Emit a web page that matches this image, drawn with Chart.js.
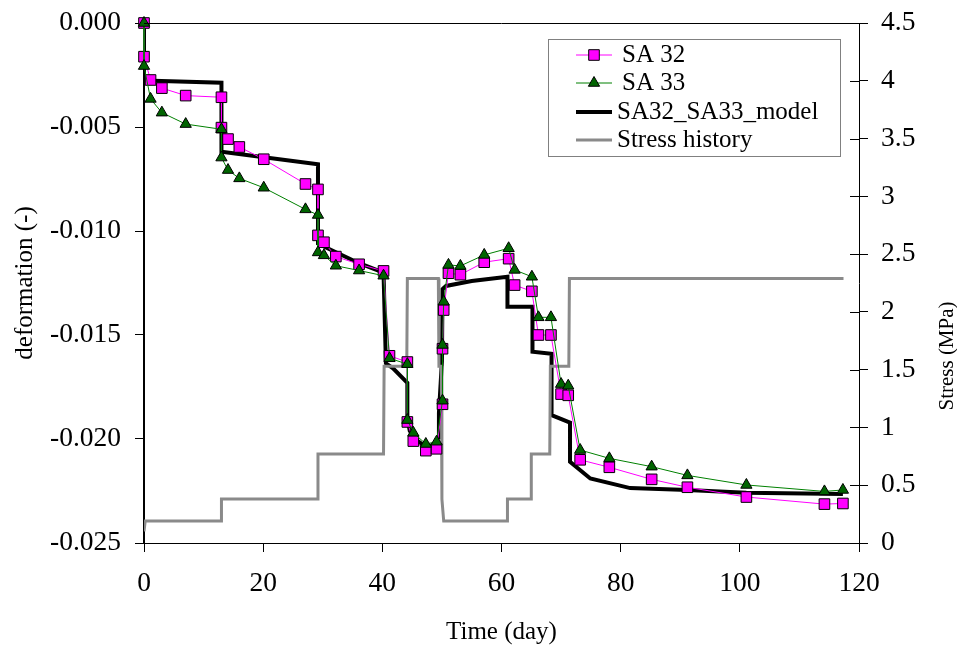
<!DOCTYPE html>
<html>
<head>
<meta charset="utf-8">
<title>Deformation and stress history</title>
<script src="https://cdn.jsdelivr.net/npm/chart.js@4.4.1/dist/chart.umd.min.js"></script>
<style>
  html, body { margin: 0; padding: 0; background: #fff; }
  #wrap { width: 957px; height: 648px; }
</style>
</head>
<body>
<div id="wrap"><canvas id="deformChart" width="957" height="648"></canvas></div>
<script>
// measured days for both samples
const testDays = [0, 0, 1.1, 3, 7, 13, 13, 14.1, 16, 20.1,
    27.1, 29.2, 29.2, 30.2, 32.2, 36.1, 40.2,
    41.2, 44.2, 44.2, 45.2, 47.3, 49.1, 50.1, 50.1, 50.3, 51.1, 53.1, 57.1,
    61.2, 62.2, 65.1, 66.2, 68.3, 70.0, 71.2, 73.2, 78.1,
    85.2, 91.2, 101.1, 114.2, 117.3];

const sa32 = [0, -0.00162, -0.00274, -0.00313, -0.00349, -0.00357, -0.00503, -0.00558, -0.00596, -0.00655,
    -0.00774, -0.0080, -0.01021, -0.01054, -0.01123, -0.0116, -0.01192,
    -0.0160, -0.0163, -0.01918, -0.0201, -0.02056, -0.02047, -0.01833, -0.01566, -0.0138, -0.01203, -0.0121, -0.0115,
    -0.01133, -0.0126, -0.0129, -0.0150, -0.0150, -0.01784, -0.0179, -0.0210, -0.02136,
    -0.02194, -0.02232, -0.02279, -0.02313, -0.0231];

const sa33 = [0, -0.00207, -0.00365, -0.00431, -0.00486, -0.00511, -0.00647, -0.00707, -0.00747, -0.00792,
    -0.00896, -0.00923, -0.01103, -0.01117, -0.01167, -0.0119, -0.01215,
    -0.01612, -0.0164, -0.01909, -0.0197, -0.02024, -0.02013, -0.01816, -0.01548, -0.0134, -0.01163, -0.01168, -0.01115,
    -0.01083, -0.01187, -0.0122, -0.01415, -0.01415, -0.01736, -0.01744, -0.02053, -0.02093,
    -0.02133, -0.02175, -0.02221, -0.02252, -0.02245];

// fitted model
const modelDays = [0, 0, 13, 13, 29.2, 29.2, 30.8, 36.1, 40.2, 40.6,
    41.8, 44.2, 44.2, 44.6, 45.5, 47.2, 48.9, 49.4, 49.5, 50.0,
    50.1, 50.7, 55.0, 61.0, 61.0, 65.2, 65.2, 68.4, 68.4, 71.5,
    71.5, 74.9, 81.6, 91.2, 101.1, 117.3];
const modelDef = [0, -0.00277, -0.00287, -0.00619, -0.00679, -0.0106, -0.01083, -0.01155, -0.0120, -0.01636,
    -0.0166, -0.0173, -0.0190, -0.0196, -0.0200, -0.02035, -0.0203, -0.0199, -0.01875, -0.01627,
    -0.0128, -0.01264, -0.0124, -0.0122, -0.01364, -0.01364, -0.0158, -0.0159, -0.01885, -0.01921,
    -0.0211, -0.0219, -0.02236, -0.02245, -0.02258, -0.02264];

// applied stress steps (MPa)
const stressDays = [0, 0.2, 13, 13, 29.2, 29.2, 40.2, 40.3, 44.1, 44.2, 49.4, 49.5,
    49.9, 50.0, 50.3, 61, 61, 65, 65, 68.1, 68.2, 71.3, 71.4, 117.4];
const stress = [0.1, 0.19, 0.19, 0.38, 0.38, 0.77, 0.77, 1.53, 1.53, 2.29, 2.29, 1.53,
    1.53, 0.38, 0.19, 0.19, 0.38, 0.38, 0.77, 0.77, 1.53, 1.53, 2.29, 2.29];

const serif = "'Liberation Serif', 'Times New Roman', serif";

function points(xs, ys) {
    return xs.map((x, i) => ({ x: x, y: ys[i] }));
}

// fixed axis width, and no extra room asked for the end labels
function fixWidth(w) {
    return s => {
        s.width = w;
        s.paddingTop = 0;
        s.paddingBottom = 0;
    };
}

// frame top line, inner half of the right ticks, legend and right axis title
const extras = {
    id: 'extras',
    afterDraw(chart) {
        const ctx = chart.ctx;
        const area = chart.chartArea;
        const y2 = chart.scales.y2;
        ctx.save();
        ctx.strokeStyle = '#000';
        ctx.lineWidth = 1;
        ctx.beginPath();
        ctx.moveTo(area.left, area.top + 0.5);
        ctx.lineTo(area.right, area.top + 0.5);
        y2.ticks.forEach(t => {
            const py = Math.round(y2.getPixelForValue(t.value)) + 0.5;
            ctx.moveTo(area.right - 9, py);
            ctx.lineTo(area.right, py);
        });
        ctx.stroke();

        // legend
        const lx = area.right - 311, ly = area.top + 16, lw = 292, lh = 117;
        ctx.fillStyle = '#fff';
        ctx.fillRect(lx, ly, lw, lh);
        ctx.strokeStyle = '#808080';
        ctx.strokeRect(lx + 0.5, ly + 0.5, lw, lh);
        ctx.font = '25px ' + serif;
        ctx.textBaseline = 'middle';
        ctx.textAlign = 'left';
        const rows = [
            { ds: chart.data.datasets[0], text: 'SA 32', dy: 16, tx: 74 },
            { ds: chart.data.datasets[1], text: 'SA 33', dy: 44, tx: 74 },
            { ds: chart.data.datasets[2], text: 'SA32_SA33_model', dy: 73, tx: 69 },
            { ds: chart.data.datasets[3], text: 'Stress history', dy: 101, tx: 69 }
        ];
        rows.forEach(r => {
            const cy = ly + r.dy;
            ctx.strokeStyle = r.ds.borderColor;
            ctx.lineWidth = r.ds.borderWidth;
            ctx.beginPath();
            ctx.moveTo(lx + 28, cy);
            ctx.lineTo(lx + 64, cy);
            ctx.stroke();
            if (r.ds.pointRadius > 0) {
                const cx = lx + 46;
                ctx.fillStyle = r.ds.pointBackgroundColor;
                ctx.strokeStyle = '#000';
                ctx.lineWidth = 1;
                ctx.beginPath();
                if (r.ds.pointStyle === 'rect') {
                    const s = r.ds.pointRadius * Math.SQRT1_2;
                    ctx.rect(cx - s, cy - s, 2 * s, 2 * s);
                } else {
                    const rr = r.ds.pointRadius;
                    ctx.moveTo(cx, cy - rr);
                    ctx.lineTo(cx + rr * Math.sin(Math.PI * 2 / 3), cy + rr / 2);
                    ctx.lineTo(cx - rr * Math.sin(Math.PI * 2 / 3), cy + rr / 2);
                    ctx.closePath();
                }
                ctx.fill();
                ctx.stroke();
            }
            ctx.fillStyle = '#000';
            ctx.fillText(r.text, lx + r.tx, cy);
        });

        // right axis title reads bottom to top
        ctx.font = '21px ' + serif;
        ctx.textAlign = 'center';
        ctx.translate(y2.right - 10, area.top + 333);
        ctx.rotate(-Math.PI / 2);
        ctx.fillText('Stress (MPa)', 0, 0);
        ctx.restore();
    }
};

const ctx = document.getElementById('deformChart').getContext('2d');
const deformChart = new Chart(ctx, {
    type: 'line',
    data: {
        datasets: [{
            label: 'SA 32',
            data: points(testDays, sa32),
            borderColor: '#ff00ff',
            borderWidth: 1,
            pointStyle: 'rect',
            pointRadius: 7.5,
            pointBackgroundColor: '#ff00ff',
            pointBorderColor: '#000',
            pointBorderWidth: 1,
            clip: false,
            yAxisID: 'y',
            order: 1
        }, {
            label: 'SA 33',
            data: points(testDays, sa33),
            borderColor: '#008000',
            borderWidth: 1,
            pointStyle: 'triangle',
            pointRadius: 6.5,
            pointBackgroundColor: '#006400',
            pointBorderColor: '#000',
            pointBorderWidth: 1,
            clip: false,
            yAxisID: 'y',
            order: 0
        }, {
            label: 'SA32_SA33_model',
            data: points(modelDays, modelDef),
            borderColor: '#000',
            borderWidth: 4,
            pointRadius: 0,
            yAxisID: 'y',
            order: 3
        }, {
            label: 'Stress history',
            data: points(stressDays, stress),
            borderColor: '#8a8a8a',
            borderWidth: 3,
            pointRadius: 0,
            yAxisID: 'y2',
            order: 2
        }]
    },
    options: {
        responsive: false,
        animation: false,
        devicePixelRatio: 1,
        layout: { padding: { top: 23, left: 0, right: 0, bottom: 0 } },
        plugins: {
            legend: { display: false },
            tooltip: { enabled: false }
        },
        elements: { line: { tension: 0 } },
        scales: {
            x: {
                type: 'linear',
                min: 0,
                max: 120,
                afterFit: s => { s.height = 105; },
                border: { color: '#000', width: 1 },
                grid: { drawOnChartArea: false, tickLength: 9, tickColor: '#000' },
                ticks: { stepSize: 20, color: '#000', padding: 15, font: { family: serif, size: 27.5 } },
                title: { display: true, text: 'Time (day)', color: '#000', padding: { top: 0, bottom: 1 },
                    font: { family: serif, size: 25 } }
            },
            y: {
                position: 'left',
                min: -0.025,
                max: 0,
                afterFit: fixWidth(144),
                border: { color: '#000', width: 2 },
                grid: { drawOnChartArea: false, tickLength: 9, tickColor: '#000' },
                ticks: { stepSize: 0.005, color: '#000', padding: 14, font: { family: serif, size: 27.5 },
                    callback: v => v.toFixed(3) },
                title: { display: true, text: 'deformation (-)', color: '#000', padding: { top: 10, bottom: 0 },
                    font: { family: serif, size: 25 } }
            },
            y2: {
                position: 'right',
                min: 0,
                max: 4.5,
                afterFit: fixWidth(98),
                border: { color: '#000', width: 1 },
                grid: { drawOnChartArea: false, tickLength: 9, tickColor: '#000' },
                ticks: { stepSize: 0.5, color: '#000', padding: 13, font: { family: serif, size: 27.5 },
                    callback: v => String(v) }
            }
        }
    },
    plugins: [extras]
});
</script>
</body>
</html>
